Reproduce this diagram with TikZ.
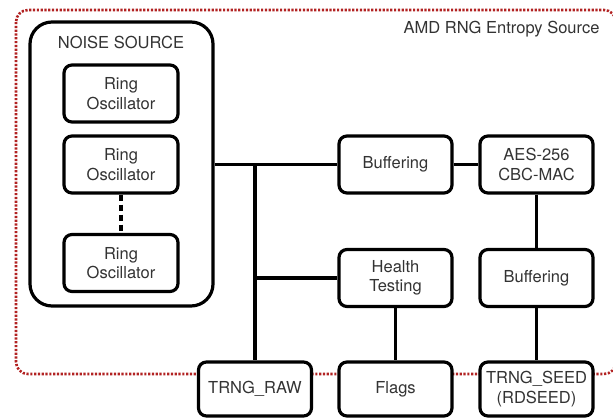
\documentclass[tikz,border=0pt]{standalone}
\usepackage{fontspec}
\setmainfont{TeX Gyre Heros}
\definecolor{bordered}{HTML}{B22222}
\definecolor{txt}{HTML}{333333}
\begin{document}
\begin{tikzpicture}[x=1pt,y=-1pt,
  font=\fontsize{16.5}{19.5}\selectfont,
  blk/.style={draw=black, line width=3.2pt, rounded corners=8pt, fill=white,
    minimum width=113pt, minimum height=57pt, inner sep=0pt, align=center,
    text=txt},
  wire/.style={line width=3.2pt}]
\useasboundingbox (0,0) rectangle (613,418);
\fill[white] (0,0) rectangle (613,418);
\begin{scope}
\clip (0,0) rectangle (613,418);
% entropy-source boundary
\draw[bordered, line width=2.6pt, dash pattern=on 2.2pt off 1.6pt, rounded corners=12pt]
  (16,10) rectangle (616,374);
\end{scope}
\node[anchor=east, text=txt] (title) at (603,29) {AMD RNG Entropy Source};

% noise source with its oscillators
\node[draw, line width=3.2pt, rounded corners=22pt, minimum width=183pt,
  minimum height=284pt, inner sep=0pt] (noise) at (121.5,164) {};
\node[text=txt] (noiselbl) at (121,42) {NOISE SOURCE};
\node[blk, minimum width=114pt] (ro1) at (121,93.5) {Ring\\Oscillator};
\node[blk, minimum width=114pt] (ro2) at (121,164.5) {Ring\\Oscillator};
\node[blk, minimum width=114pt] (ro3) at (121,263) {Ring\\Oscillator};
\draw[line width=3.2pt, dash pattern=on 6pt off 4pt] (ro2.south) -- (ro3.north);

% processing chain
\node[blk] (buf1) at (395.5,164.5) {Buffering};
\node[blk] (aes) at (536.5,164.5) {AES-256\\CBC-MAC};
\node[blk] (buf2) at (536.5,278) {Buffering};
\node[blk] (health) at (395.5,278) {Health\\Testing};

% outputs
\node[blk, minimum height=54pt] (raw) at (255,389) {TRNG\_RAW};
\node[blk, minimum height=54pt] (flags) at (395.5,389) {Flags};
\node[blk, minimum height=54pt] (seed) at (536.5,389) {TRNG\_SEED\\(RDSEED)};

% connections
\coordinate (jtop) at (raw.north |- buf1.west);
\draw[wire] (noise.east |- buf1.west) -- (buf1.west);
\draw[wire] (jtop) -- (raw.north);
\draw[wire] (raw.north |- health.west) -- (health.west);
\draw[wire] (buf1.east) -- (aes.west);
\draw[wire] (aes.south) -- (buf2.north);
\draw[wire] (buf2.south) -- (seed.north);
\draw[wire] (health.south) -- (flags.north);
\end{tikzpicture}
\end{document}
